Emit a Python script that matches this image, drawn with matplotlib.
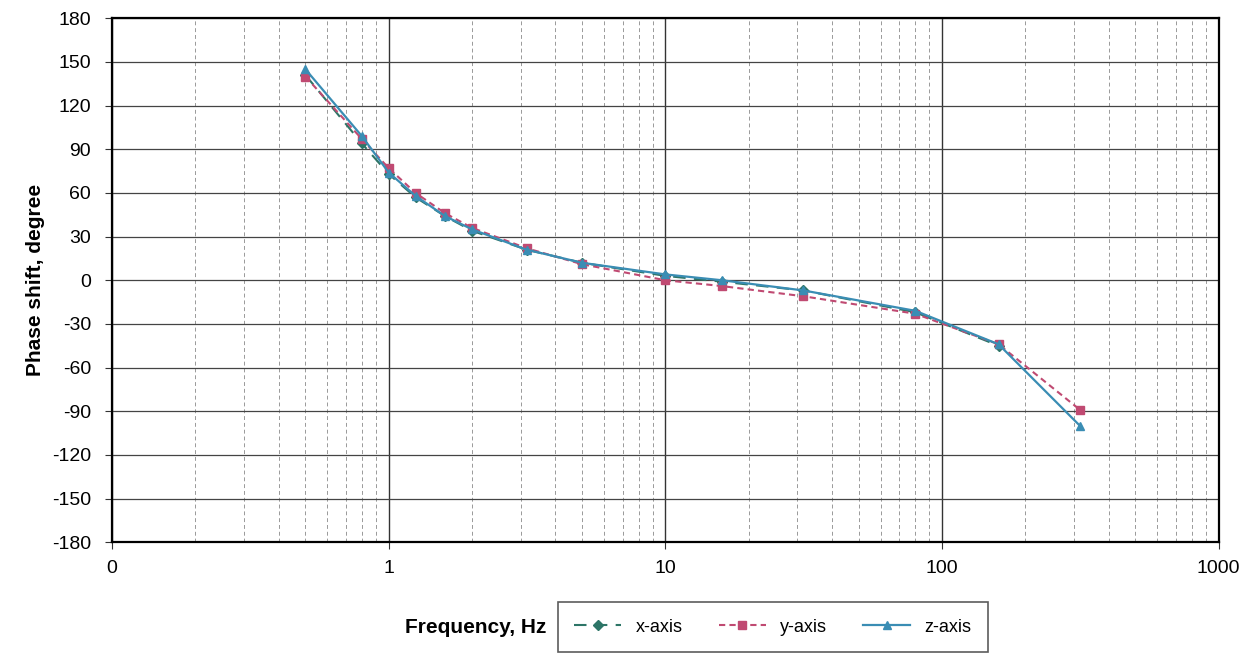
import matplotlib
matplotlib.use('Agg')
import matplotlib.pyplot as plt
from matplotlib.ticker import FixedLocator, FixedFormatter, LogLocator, NullFormatter

plt.rcParams['font.family'] = ['Liberation Sans', 'DejaVu Sans']
plt.rcParams['axes.unicode_minus'] = False

# frequencies, Hz
freqs = [0.5, 0.8, 1, 1.25, 1.6, 2, 3.15, 5, 10, 16, 31.5, 80, 160, 315]
# phase shift per axis, degree
phase_x = [141, 94, 73, 57, 44, 34, 21, 12, 3, -1, -7, -22, -45]
phase_y = [140, 97, 77, 60, 46, 36, 22, 11, 0, -4, -11, -23, -44, -89]
phase_z = [145, 99, 74, 58, 44, 35, 21, 12, 4, 0, -7, -21, -44, -100]

xticks = [0.1, 1, 10, 100, 1000]
xticklabels = ['0', '1', '10', '100', '1000']
yticks = list(range(-180, 181, 30))

fig = plt.figure(figsize=(12.59, 6.54), dpi=100)
ax = fig.add_axes([0.089, 0.171, 0.879, 0.801])

ax.plot(freqs[:len(phase_x)], phase_x, color='#2d7567', lw=1.5, dashes=(6, 4),
        marker='D', ms=5, label='x-axis', zorder=3)
ax.plot(freqs, phase_y, color='#c04a72', lw=1.5, dashes=(3, 2),
        marker='s', ms=6, label='y-axis', zorder=4)
ax.plot(freqs, phase_z, color='#3a8db4', lw=1.6,
        marker='^', ms=6, label='z-axis', zorder=5)

ax.set_xscale('log')
ax.set_xlim(0.1, 1000)
ax.set_ylim(-180, 180)
ax.xaxis.set_major_locator(FixedLocator(xticks))
ax.xaxis.set_major_formatter(FixedFormatter(xticklabels))
ax.xaxis.set_minor_locator(LogLocator(base=10, subs=range(2, 10), numticks=20))
ax.xaxis.set_minor_formatter(NullFormatter())
ax.set_yticks(yticks)

ax.grid(which='major', axis='y', color='#444444', lw=0.9)
ax.grid(which='major', axis='x', color='#333333', lw=1.0)
ax.grid(which='minor', axis='x', color='#999999', lw=0.7, ls=(0, (4, 3)))
ax.set_axisbelow(True)

ax.tick_params(axis='both', which='major', direction='out', length=5,
               labelsize=14, color='#333333')
ax.tick_params(axis='y', which='major', pad=10)
ax.tick_params(axis='x', which='major', pad=8)
ax.tick_params(axis='x', which='minor', length=0)
for s in ax.spines.values():
    s.set_color('black')
    s.set_linewidth(1.6)

fig.text(0.028, 0.572, 'Phase shift, degree', fontsize=15, fontweight='bold',
         ha='center', va='center', rotation=90)
fig.text(0.378, 0.040, 'Frequency, Hz', fontsize=15, fontweight='bold',
         ha='center', va='center')

leg = fig.legend(loc='center', bbox_to_anchor=(0.614, 0.041), ncol=3, fontsize=13,
                 frameon=True, fancybox=False, edgecolor='#333333',
                 handlelength=2.6, handletextpad=0.8, columnspacing=2.0,
                 borderpad=0.9)
leg.get_frame().set_linewidth(1.2)

fig.savefig('out.png', dpi=100)
